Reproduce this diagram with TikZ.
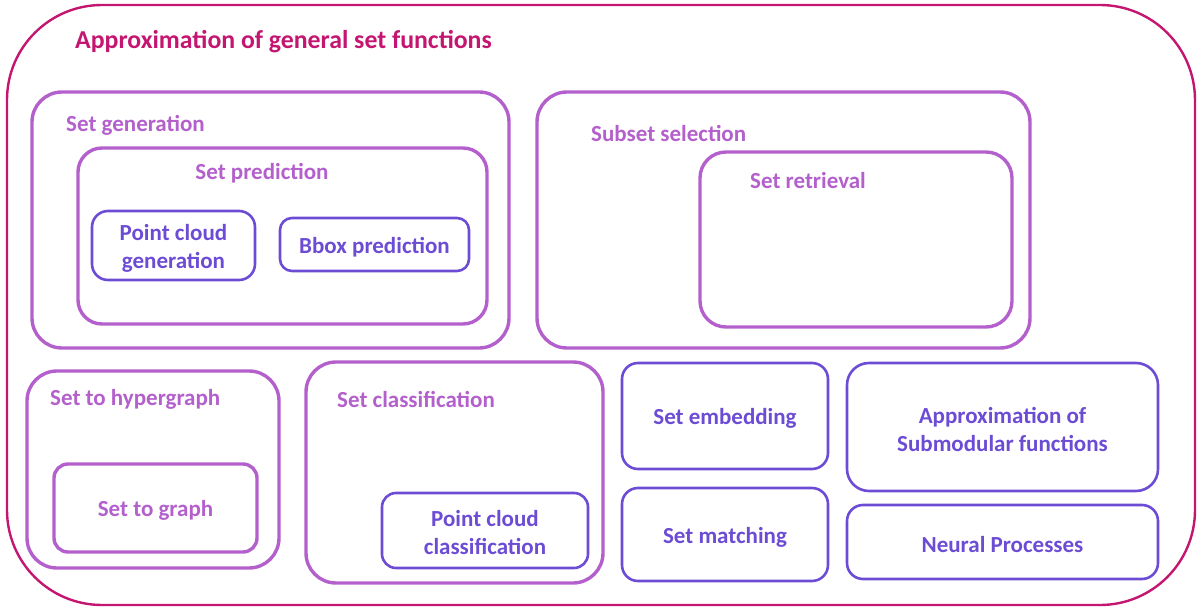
\documentclass[tikz,border=0pt]{standalone}
\usepackage{fontspec}
\setmainfont{Carlito}
\usetikzlibrary{fit}
\definecolor{mag}{RGB}{196,22,112}
\definecolor{orch}{RGB}{180,96,204}
\definecolor{purp}{RGB}{108,76,212}
\tikzset{
  outerbox/.style={draw=mag, line width=2.4bp, rounded corners=95bp, inner sep=0pt},
  obox/.style={draw=orch, line width=3.4bp, rounded corners=30bp, inner sep=0pt},
  pbox/.style={draw=purp, line width=2.6bp, rounded corners=16bp, inner sep=0pt},
  olab/.style={text=orch, font=\fontsize{23bp}{27bp}\selectfont\bfseries, inner sep=0pt, yshift=-2bp},
  plab/.style={text=purp, font=\fontsize{23bp}{28bp}\selectfont\bfseries, inner sep=0pt, align=center, yshift=-2.5bp},
  tlab/.style={text=mag, font=\fontsize{25.8bp}{30bp}\selectfont\bfseries, inner sep=0pt, yshift=-1.5bp}
}
\begin{document}
\begin{tikzpicture}[x=1bp,y=-1bp]
\useasboundingbox (0,0) rectangle (1197,608);
\node[outerbox, fit={(7,5) (1195,605)}] (outer) {};
\node[tlab, anchor=west] (title) at (75,40) {Approximation of general set functions};
% Set generation
\node[obox, fit={(32,92) (509,348)}] (gen) {};
\node[olab, anchor=west] (genl) at (66,123) {Set generation};
\node[obox, rounded corners=24bp, fit={(78,148) (487,324)}] (pred) {};
\node[olab] (predl) at (262,171) {Set prediction};
\node[pbox, fit={(92,211) (255,280)}] (pcg) {};
\node[plab] at (pcg.center) {Point cloud\\generation};
\node[pbox, rounded corners=12bp, fit={(280,218) (469,271)}] (bbox) {};
\node[plab] at (bbox.center) {Bbox prediction};
% Subset selection
\node[obox, fit={(537,92) (1030,348)}] (sub) {};
\node[olab, anchor=west] (subl) at (591,131) {Subset selection};
\node[obox, rounded corners=26bp, fit={(700,152) (1012,327)}] (ret) {};
\node[olab, anchor=west] (retl) at (750,179) {Set retrieval};
% Set to hypergraph
\node[obox, fit={(27,371) (279,568)}] (hyp) {};
\node[olab, anchor=west] (hypl) at (50,397) {Set to hypergraph};
\node[obox, rounded corners=14bp, fit={(54,464) (257,552)}] (graph) {};
\node[olab] at (graph.center) {Set to graph};
% Set classification
\node[obox, fit={(306,362) (603,583)}] (cls) {};
\node[olab, anchor=west] (clsl) at (337,397) {Set classification};
\node[pbox, rounded corners=14bp, fit={(382,493) (588,568)}] (pcc) {};
\node[plab] at (pcc.center) {Point cloud\\classification};
% Right column
\node[pbox, fit={(622,363) (828,469)}] (emb) {};
\node[plab] at (emb.center) {Set embedding};
\node[pbox, fit={(622,488) (828,581)}] (match) {};
\node[plab] at (match.center) {Set matching};
\node[pbox, rounded corners=22bp, fit={(847,363) (1158,491)}] (subm) {};
\node[plab] at (subm.center) {Approximation of\\Submodular functions};
\node[pbox, fit={(847,505) (1158,579)}] (np) {};
\node[plab] at (np.center) {Neural Processes};
\end{tikzpicture}
\end{document}
